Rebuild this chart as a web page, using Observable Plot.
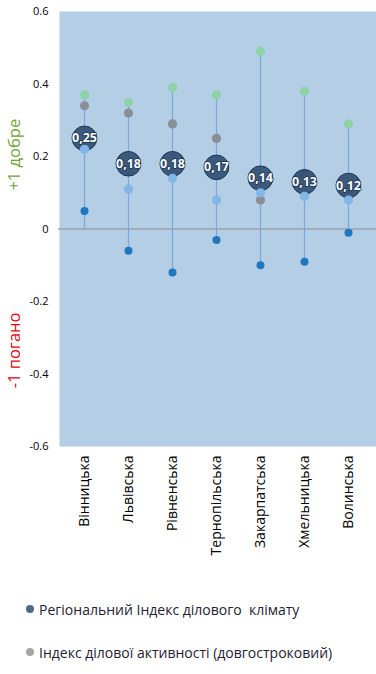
<!DOCTYPE html>
<html>
<head>
<meta charset="utf-8">
<script src="https://cdn.jsdelivr.net/npm/d3@7"></script>
<script src="https://cdn.jsdelivr.net/npm/@observablehq/plot@0.6"></script>
<style>
  html, body { margin: 0; padding: 0; background: #fff; }
  body { width: 376px; height: 674px; overflow: hidden; font-family: "Open Sans", sans-serif; }
  #legend { position: relative; }
  .item { display: flex; align-items: center; font-size: 14px; color: #1e2233; height: 20px; }
  .dot { width: 8px; height: 8px; border-radius: 50%; margin-left: 26px; margin-right: 5px; }
</style>
</head>
<body>
<div id="chart"></div>
<div id="legend"></div>
<script>
const regions = ["Вінницька", "Львівська", "Рівненська", "Тернопільська", "Закарпатська", "Хмельницька", "Волинська"];
const climateIndex = [0.25, 0.18, 0.18, 0.17, 0.14, 0.13, 0.12];
const greenValues = [0.37, 0.35, 0.39, 0.37, 0.49, 0.38, 0.29];
const longTermActivity = [0.34, 0.32, 0.29, 0.25, 0.08, 0.15, 0.11];
const lightBlueValues = [0.22, 0.11, 0.14, 0.08, 0.10, 0.09, 0.08];
const darkBlueValues = [0.05, -0.06, -0.12, -0.03, -0.10, -0.09, -0.01];
const yTicks = [-0.6, -0.4, -0.2, 0, 0.2, 0.4, 0.6];
const legendLabels = ["Регіональний Індекс ділового  клімату", "Індекс ділової активності (довгостроковий)"];
const sideLabels = [
  {text: "+1 добре", y: 0.205, color: "#74a23a"},
  {text: "-1 погано", y: -0.335, color: "#e8000b"}
];

const rows = regions.map((r, i) => ({
  region: r,
  climate: climateIndex[i],
  green: greenValues[i],
  gray: longTermActivity[i],
  light: lightBlueValues[i],
  dark: darkBlueValues[i]
}));
rows.forEach(d => {
  const vals = [d.climate, d.green, d.gray, d.light, d.dark];
  d.lo = Math.min(0, ...vals);
  d.hi = Math.max(...vals);
});

const font = "Open Sans, sans-serif";

const chart = Plot.plot({
  width: 376,
  height: 580,
  marginLeft: 59,
  marginRight: 4,
  marginTop: 11,
  marginBottom: 134,
  style: {fontFamily: font, background: "transparent", overflow: "visible"},
  x: {type: "band", domain: regions, padding: 0, label: null},
  y: {domain: [-0.6, 0.6], label: null},
  marks: [
    Plot.frame({fill: "#b4cee6", stroke: null, insetRight: -4}),
    Plot.ruleY([0], {stroke: "#8c8c8c", strokeWidth: 1.2, insetRight: -4, insetLeft: -1}),
    Plot.ruleX(rows, {x: "region", y1: "lo", y2: "hi", stroke: "#7aa8d9", strokeWidth: 1.2}),
    Plot.dot(rows, {x: "region", y: "gray", r: 4.6, fill: "#8a8f96", stroke: null}),
    Plot.dot(rows, {x: "region", y: "climate", r: 12.3, fill: "#2d4e70", fillOpacity: 0.9, stroke: "#1b3350", strokeWidth: 1}),
    Plot.dot(rows, {x: "region", y: "light", r: 4.6, fill: "#80b7e8", stroke: null}),
    Plot.dot(rows, {x: "region", y: "green", r: 4.6, fill: "#8fd1a8", stroke: null}),
    Plot.dot(rows, {x: "region", y: "dark", r: 4, fill: "#1f78bd", stroke: null}),
    Plot.text(rows, {x: "region", y: "climate", text: d => d.climate.toFixed(2).replace(".", ","), fill: "white", stroke: "#1b3350", strokeWidth: 1.5, fontSize: 12.5, fontWeight: "bold"}),
    Plot.axisY({ticks: yTicks, tickSize: 0, tickPadding: 11, tickFormat: d => d === 0 ? "0" : d.toFixed(1), fontSize: 11, fill: "#000"}),
    Plot.axisX({tickSize: 0, tickRotate: -90, tickPadding: 9, fontSize: 14, fill: "#000"}),
    Plot.text(sideLabels, {y: "y", text: "text", fill: "color", frameAnchor: "left", textAnchor: "middle", dx: -45, rotate: -90, fontSize: 16.5})
  ]
});
document.getElementById("chart").appendChild(chart);

const legendColors = ["#4e6a88", "#a6a6a6"];
const legend = document.getElementById("legend");
legendLabels.forEach((t, i) => {
  const div = document.createElement("div");
  div.className = "item";
  div.style.marginTop = i === 0 ? "19px" : "23px";
  const dot = document.createElement("span");
  dot.className = "dot";
  dot.style.background = legendColors[i];
  const span = document.createElement("span");
  span.textContent = t;
  span.style.whiteSpace = "pre";
  div.appendChild(dot);
  div.appendChild(span);
  legend.appendChild(div);
});
</script>
</body>
</html>
